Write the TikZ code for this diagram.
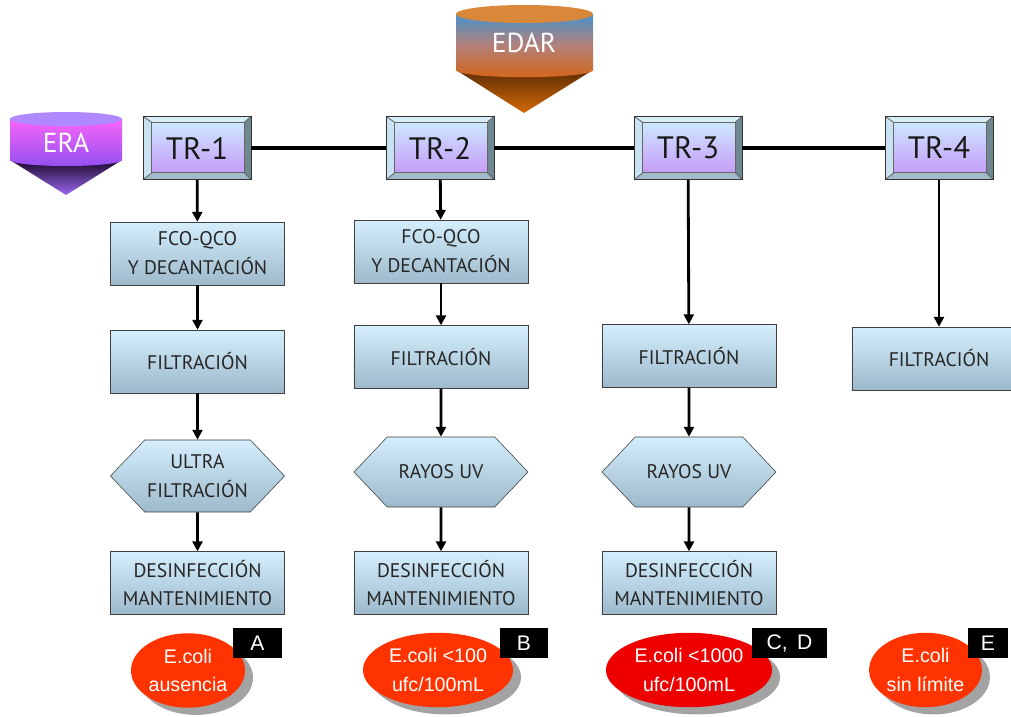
\documentclass[tikz,border=0pt]{standalone}
\usepackage{fontspec}
\setmainfont{PT Sans}
\newfontfamily\arialfont{Liberation Sans}
\usepackage{tikz}
\usetikzlibrary{arrows.meta,calc}
\usetikzlibrary{shapes.geometric,shapes.symbols,shadows}
\definecolor{boxtop}{HTML}{D4EEFC}
\definecolor{boxbot}{HTML}{9DB9CB}
\definecolor{trtop}{HTML}{CCE8FF}
\definecolor{trbot}{HTML}{C69CF8}
\definecolor{bevtop}{HTML}{D6EDF8}
\definecolor{bevleft}{HTML}{C8E2F2}
\definecolor{bevright}{HTML}{6F8791}
\definecolor{bevbot}{HTML}{A2BACA}
\definecolor{resred}{HTML}{FF3300}
\definecolor{resdark}{HTML}{EE0000}
\definecolor{edartop}{HTML}{D88838}
\definecolor{edarblue}{HTML}{4A92CC}
\definecolor{edarmid}{HTML}{B48078}
\definecolor{edarbody}{HTML}{D2661A}
\definecolor{edarbrown}{HTML}{5E2C04}
\definecolor{edartip}{HTML}{D46A08}
\definecolor{eratop}{HTML}{B088FF}
\definecolor{erabody}{HTML}{F865F8}
\definecolor{erabot}{HTML}{9450F0}
\definecolor{eradark}{HTML}{1A0828}
\definecolor{eratip}{HTML}{9A66F0}

\begin{document}
\begin{tikzpicture}[x=0.025cm, y=-0.025cm,
	trbox/.style={draw=black!80, line width=0.6pt, minimum width=2.7cm, minimum height=1.58cm,
		font=\fontsize{22}{22}\selectfont, text=black!90,
		path picture={
			\coordinate (a) at (path picture bounding box.north west);
			\coordinate (b) at (path picture bounding box.south east);
			\coordinate (c) at ($(a)+(0.22cm,-0.15cm)$);
			\coordinate (d) at ($(b)+(-0.17cm,0.17cm)$);
			\fill[bevtop] (a) -- (a-|b) -- (c-|d) -- (c) -- cycle;
			\fill[bevleft] (a) -- (c) -- (d-|c) -- (b-|a) -- cycle;
			\fill[bevright] (a-|b) -- (b) -- (d) -- (c-|d) -- cycle;
			\fill[bevbot] (b-|a) -- (b) -- (d) -- (d-|c) -- cycle;
			\shadedraw[top color=trtop, bottom color=trbot, draw=black!60] (c) rectangle (d);
			\draw[black!60] (a) -- (c) (a-|b) -- (c-|d) (b) -- (d) (b-|a) -- (d-|c);
		}},
	stepbox/.style={draw=black!75, top color=boxtop, bottom color=boxbot, minimum width=4.35cm,
		minimum height=1.57cm, align=center, font=\fontsize{14}{20.5}\selectfont, text=black!85},
	hexbox/.style={stepbox, shape=signal, signal to=west and east, signal from=nowhere,
		signal pointer angle=93, minimum height=1.8cm, inner xsep=0pt},
	result/.style={ellipse, fill=resred, text=white, align=center, inner sep=0pt, minimum height=1.86cm,
		font=\arialfont\fontsize{14}{20.5}\selectfont,
		drop shadow={shadow xshift=0.2cm, shadow yshift=-0.18cm, fill=black!45, opacity=0.8}},
	tag/.style={fill=black, text=white, inner sep=0pt, minimum height=0.75cm,
		font=\arialfont\fontsize{15}{15}\selectfont},
	flow/.style={-{Triangle[length=7pt,width=7pt]}, line width=2pt},
	link/.style={line width=2.8pt}
	]
	\useasboundingbox (0,0) rectangle (1011,716);
	\clip (0,0) rectangle (1011,716);
	
	% sources
	\shade[top color=edarbrown, bottom color=edartip] (456,70) -- (524,113) -- (593,70) -- cycle;
	\shade[top color=edarblue, bottom color=edarbody, middle color=edarmid] (456,14) -- (456,70)
		arc[start angle=180, end angle=360, x radius=1.7125cm, y radius=0.18cm] -- (593,14) -- cycle;
	\fill[edartop] (524.5,14) ellipse[x radius=1.7125cm, y radius=0.225cm];
	\node[text=white, font=\fontsize{19.5}{19.5}\selectfont] (edar) at (524,43) {EDAR};
	
	\shade[top color=eradark, bottom color=eratip] (10,160) -- (66,195) -- (122,160) -- cycle;
	\shade[top color=erabody, bottom color=erabot] (10,119) -- (10,160)
		arc[start angle=180, end angle=360, x radius=1.4cm, y radius=0.15cm] -- (122,119) -- cycle;
	\fill[eratop] (66,119) ellipse[x radius=1.4cm, y radius=0.175cm];
	\node[text=white, font=\fontsize{19.5}{19.5}\selectfont] (era) at (66,143) {ERA};
	
	% trains
	\foreach \n/\xx in {1/197,2/440,3/688,4/939} {
		\node[trbox] (tr\n) at (\xx,148) {TR-\n};
	}
	\path[link] (tr1) edge (tr2) (tr2) edge (tr3) (tr3) edge (tr4);
	
	\node[stepbox] (fco1) at (197.5,253.5) {FCO-QCO\\Y DECANTACIÓN};
	\node[stepbox] (fil1) at (197.5,361.5) {FILTRACIÓN};
	\node[hexbox] (hex1) at (197.5,476) {ULTRA\\FILTRACIÓN};
	\node[stepbox] (des1) at (197.5,583) {DESINFECCIÓN\\MANTENIMIENTO};
	
	\node[stepbox] (fco2) at (441,251.5) {FCO-QCO\\Y DECANTACIÓN};
	\node[stepbox] (fil2) at (441,357) {FILTRACIÓN};
	\node[hexbox, minimum height=1.75cm] (hex2) at (441,472) {RAYOS UV};
	\node[stepbox] (des2) at (441,583) {DESINFECCIÓN\\MANTENIMIENTO};
	
	\node[stepbox] (fil3) at (689,356) {FILTRACIÓN};
	\node[hexbox, minimum height=1.75cm] (hex3) at (689,472) {RAYOS UV};
	\node[stepbox] (des3) at (689,583) {DESINFECCIÓN\\MANTENIMIENTO};
	
	\node[stepbox] (fil4) at (939,358.5) {FILTRACIÓN};
	
	\path[flow]
	(tr1) edge (fco1)
	(fco1) edge (fil1)
	(fil1) edge (hex1)
	(hex1) edge (des1)
	(tr2) edge (fco2)
	(fco2) edge (fil2)
	(fil2) edge (hex2)
	(hex2) edge (des2)
	(tr3) edge (fil3)
	(fil3) edge (hex3)
	(hex3) edge (des3)
	(tr4) edge (fil4)
	;
	
	% limits
	\node[result, minimum width=2.85cm] (resA) at (188,670.5) {E.coli\\ausencia};
	\node[result, minimum width=3.75cm] (resB) at (438,670) {E.coli <100\\ufc/100mL};
	\node[result, fill=resdark, minimum width=4.15cm] (resC) at (689,670) {E.coli <1000\\ufc/100mL};
	\node[result, minimum width=2.82cm] (resE) at (925.5,670) {E.coli\\sin límite};
	
	\node[tag, minimum width=1.22cm] (tagA) at (257.5,643) {A};
	\node[tag, minimum width=1.2cm] (tagB) at (524,643) {B};
	\node[tag, minimum width=1.88cm] (tagC) at (789.5,643) {C,\, D};
	\node[tag, minimum width=1cm] (tagE) at (988,643) {E};
\end{tikzpicture}
\end{document}
